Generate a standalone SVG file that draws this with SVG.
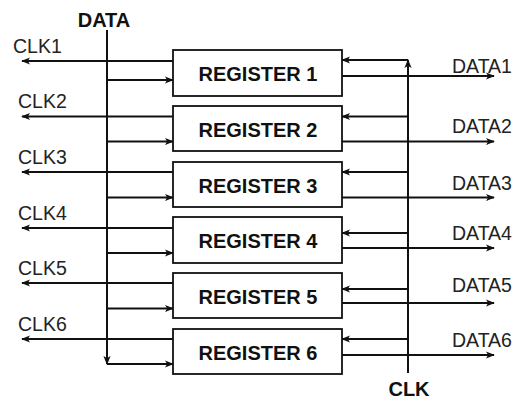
<svg xmlns="http://www.w3.org/2000/svg" width="522" height="400" viewBox="0 0 522 400">
<style>
.box{fill:#fff;stroke:#111;stroke-width:1.8}
.reg{font-family:"Liberation Sans",Arial,sans-serif;font-weight:bold;font-size:20px;fill:#111;text-anchor:middle}
.lbl{font-family:"Liberation Sans",Arial,sans-serif;font-size:19.5px;fill:#222}
.bold{font-family:"Liberation Sans",Arial,sans-serif;font-weight:bold;font-size:20px;fill:#111;text-anchor:middle}
.ln{fill:none;stroke:#111;stroke-width:2;marker-end:url(#ah)}
.pl{fill:none;stroke:#111;stroke-width:2}
</style>
<defs>
<marker id="ah" viewBox="0 0 10 10" refX="9" refY="5" markerWidth="9" markerHeight="9" markerUnits="userSpaceOnUse" orient="auto">
<path d="M0,1 L10,5 L0,9 L2.5,5 z" fill="#111"/>
</marker>
</defs>
<rect width="522" height="400" fill="#fff"/>
<g id="connectors">
<!-- DATA bus -->
<path class="ln" d="M107,30 V364"/>
<!-- CLK bus -->
<path class="ln" d="M408,373 V60"/>
<!-- data in -->
<path class="ln" d="M107,80 H173"/>
<path class="ln" d="M107,141.5 H173"/>
<path class="ln" d="M107,197.5 H173"/>
<path class="ln" d="M107,253 H173"/>
<path class="ln" d="M107,308.5 H173"/>
<path class="ln" d="M107,364 H173"/>
<!-- clk out -->
<path class="ln" d="M173,61 H22"/>
<path class="ln" d="M173,116.5 H22"/>
<path class="ln" d="M173,172 H22"/>
<path class="ln" d="M173,228 H22"/>
<path class="ln" d="M173,283 H22"/>
<path class="ln" d="M173,339 H22"/>
<!-- clk in -->
<path class="ln" d="M408,60 H342"/>
<path class="ln" d="M408,116.5 H342"/>
<path class="ln" d="M408,172 H342"/>
<path class="ln" d="M408,233 H342"/>
<path class="ln" d="M408,289 H342"/>
<path class="ln" d="M408,339 H342"/>
<!-- data out -->
<path class="ln" d="M342,76 H494"/>
<path class="ln" d="M342,141.5 H494"/>
<path class="ln" d="M342,197.5 H494"/>
<path class="ln" d="M342,248 H494"/>
<path class="ln" d="M342,303 H494"/>
<path class="ln" d="M342,355 H494"/>
</g>
<g id="reg1"><rect class="box" x="173" y="50" width="169" height="46"/><text class="reg" x="258" y="81">REGISTER 1</text></g>
<g id="reg2"><rect class="box" x="173" y="106" width="169" height="45"/><text class="reg" x="258" y="137">REGISTER 2</text></g>
<g id="reg3"><rect class="box" x="173" y="162" width="169" height="45"/><text class="reg" x="258" y="193">REGISTER 3</text></g>
<g id="reg4"><rect class="box" x="173" y="217" width="169" height="46"/><text class="reg" x="258" y="248">REGISTER 4</text></g>
<g id="reg5"><rect class="box" x="173" y="273" width="169" height="45"/><text class="reg" x="258" y="304">REGISTER 5</text></g>
<g id="reg6"><rect class="box" x="173" y="329" width="169" height="45"/><text class="reg" x="258" y="360">REGISTER 6</text></g>
<g id="labels">
<text class="bold" x="104" y="27">DATA</text>
<text class="bold" x="409" y="396">CLK</text>
<text class="lbl" x="13" y="53">CLK1</text>
<text class="lbl" x="18" y="108">CLK2</text>
<text class="lbl" x="18" y="164">CLK3</text>
<text class="lbl" x="18" y="220">CLK4</text>
<text class="lbl" x="18" y="275">CLK5</text>
<text class="lbl" x="18" y="331">CLK6</text>
<text class="lbl" x="452" y="73">DATA1</text>
<text class="lbl" x="452" y="133">DATA2</text>
<text class="lbl" x="452" y="190">DATA3</text>
<text class="lbl" x="452" y="240">DATA4</text>
<text class="lbl" x="452" y="292">DATA5</text>
<text class="lbl" x="452" y="347">DATA6</text>
</g>
</svg>
